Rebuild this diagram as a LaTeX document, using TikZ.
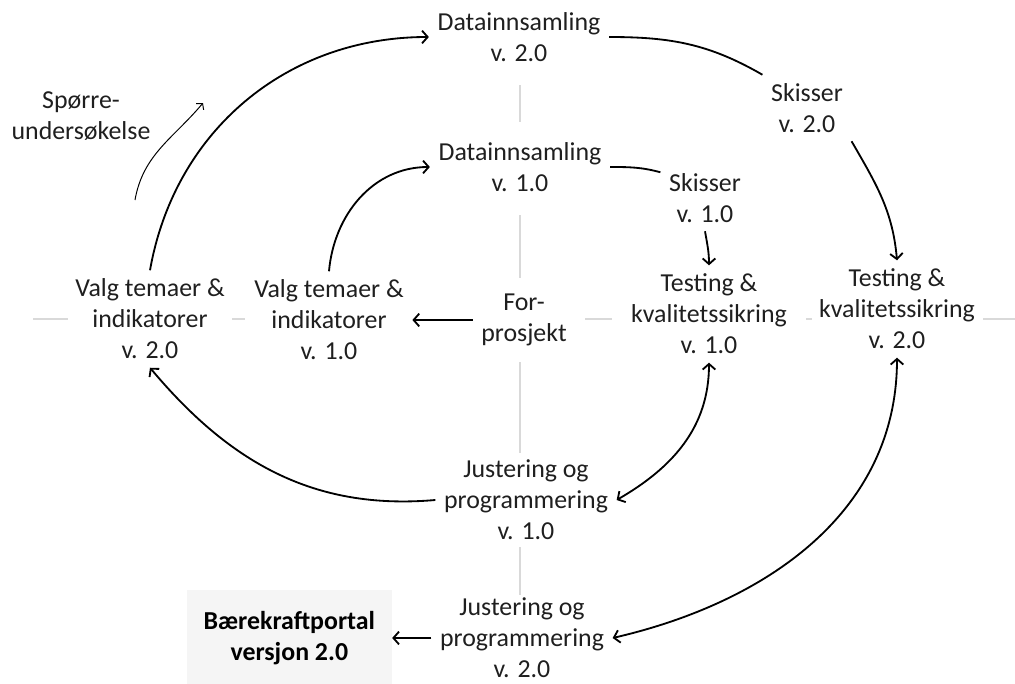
\documentclass[tikz,border=0pt]{standalone}
\usepackage{fontspec}
\setmainfont{Carlito}
\usetikzlibrary{arrows.meta}
\usetikzlibrary{positioning}
\pgfkeys{tikz/mytext/.style={align=center,text=black!88,font=\fontsize{18.4}{22}\selectfont,inner sep=6pt}}
\pgfkeys{tikz/mybox/.style={mytext,fill=black!4,text=black,font=\fontsize{18.4}{22}\selectfont\bfseries,minimum width=5.125cm,minimum height=2.4cm}}
\pgfkeys{tikz/myaxis/.style={draw=black!15,line width=1pt}}
\pgfkeys{tikz/myline/.style={line width=1.3pt}}
\pgfkeys{tikz/myarrow/.style={myline,->,>={Straight Barb[length=4pt,width=9pt]}}}
\pgfkeys{tikz/mytwoway/.style={myarrow,<->}}
\pgfkeys{tikz/mythin/.style={line width=0.7pt,->,>={Straight Barb[length=3pt,width=7pt]}}}

\begin{document}
\begin{tikzpicture}[x=0.025cm,y=0.025cm]
    \useasboundingbox (0,0) rectangle (1015,-684);
    % light cross behind the cycle
    \draw[myaxis] (520,-85) -- (520,-122) (520,-215) -- (520,-278)
        (520,-362) -- (520,-453) (520,-547) -- (520,-595);
    \draw[myaxis] (33,-319) -- (68,-319) (232,-319) -- (245,-319)
        (585,-319) -- (612,-319) (806,-319) -- (812,-319) (983,-319) -- (1015,-319);

    \node[mytext] (di2) at (519,-37) {Datainnsamling\\v. 2.0};
    \node[mytext] (di1) at (520,-167) {Datainnsamling\\v. 1.0};
    \node[mytext] (sk2) at (807,-108) {Skisser\\v. 2.0};
    \node[mytext] (sk1) at (705,-198) {Skisser\\v. 1.0};
    \node[mytext] (test1) at (709,-314) {Testing \&\\kvalitetssikring\\v. 1.0};
    \node[mytext] (test2) at (897,-309) {Testing \&\\kvalitetssikring\\v. 2.0};
    \node[mytext] (forpr) at (524,-320) {For-\\prosjekt};
    \node[mytext] (valg1) at (329,-320) {Valg temaer \&\\indikatorer\\v. 1.0};
    \node[mytext] (valg2) at (150,-319) {Valg temaer \&\\indikatorer\\v. 2.0};
    \node[mytext] (just1) at (526,-500) {Justering og\\programmering\\v. 1.0};
    \node[mytext] (just2) at (522,-638) {Justering og\\programmering\\v. 2.0};
    \node[mytext] (survey) at (81,-116) {Spørre-\\undersøkelse};
    \node[mybox, left=0.98cm of just2] (portal) {Bærekraftportal\\versjon 2.0};
    \coordinate (surveyA) at (135,-200);
    \coordinate (surveyB) at (203,-103);

    \draw[myarrow] (valg2.north) to [out=80,in=180] (di2.west);
    \draw[myarrow] (valg1.north) to [out=85,in=180] (di1.west);
    \draw[myline] (di2.east) to [out=0,in=150] (sk2.north west);
    \draw[myarrow] (sk2.south east) to [out=-60,in=95] (test2.north);
    \draw[myline] (di1.east) to [out=0,in=165] (sk1.150);
    \draw[myarrow] (sk1.south) to [out=-80,in=90] (test1.north);
    \draw[myarrow] (forpr.west) -- (valg1.east);
    \draw[mytwoway] (test1.south) to [out=-90,in=30] (just1.east);
    \draw[myarrow] (just1.west) to [out=185,in=-50] (valg2.south);
    \draw[mytwoway] (test2.south) to [out=-90,in=13] (just2.east);
    \draw[myarrow] (just2.west) -- (portal.east);
    \draw[mythin] (surveyA) to [out=80,in=-130] (surveyB);
\end{tikzpicture}
\end{document}
